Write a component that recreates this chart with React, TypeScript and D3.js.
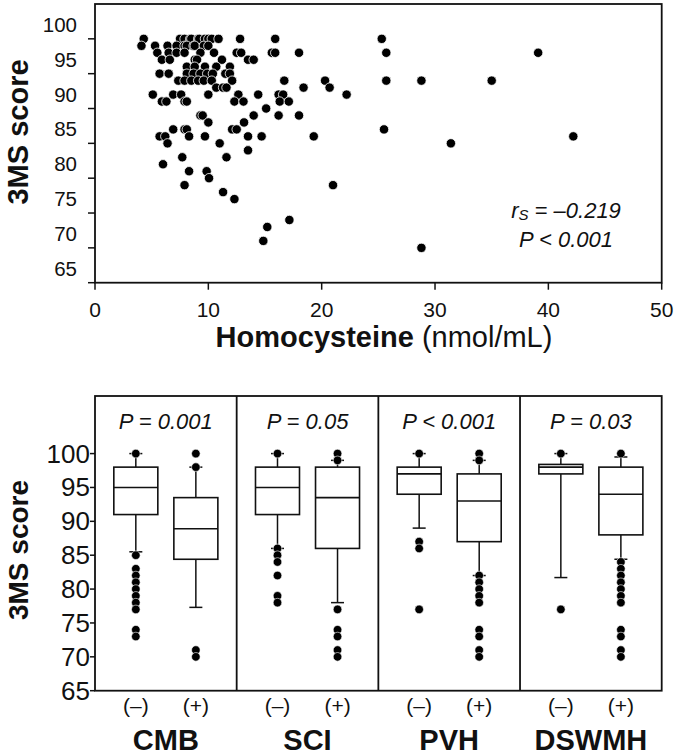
import * as d3 from "d3";

// scatter: homocysteine (nmol/mL) and 3MS score, listed row by row
const homocysteine = [
  4.3, 7.5, 7.9, 8.4, 8.5, 9.1, 9.2, 9.7, 10.0, 10.3, 10.9, 12.8, 15.9, 25.3,
  4.1, 5.3, 6.4, 7.2, 7.9, 8.1, 8.7, 8.8, 9.6, 10.0,
  5.5, 6.5, 7.2, 7.9, 9.3, 10.5, 12.5, 12.9, 15.6, 15.9, 18.0, 25.7, 39.1,
  5.9, 6.6, 8.8, 9.0, 11.2, 13.5, 14.0,
  8.1, 8.8, 9.7, 10.7, 11.9,
  5.7, 6.5, 8.1, 8.7, 9.3, 9.9, 10.4, 11.5, 11.9,
  7.35, 7.9, 8.5, 9.1, 9.6, 10.3, 12.1, 16.7, 20.3, 25.7, 28.8, 35.0,
  10.7, 11.3, 11.6, 18.4, 20.7,
  5.1, 6.9, 7.6, 10.0, 12.65, 14.4, 16.2, 16.6, 22.2,
  5.9, 6.3, 7.9, 8.1, 12.3, 13.1, 16.3, 17.1,
  15.1,
  9.3, 9.5, 14.0, 16.2, 18.0,
  10.0, 13.15,
  6.9, 7.9, 8.1, 12.1, 12.5, 25.5,
  5.7, 6.2, 8.3, 9.7, 13.5, 14.7, 19.3, 42.2,
  6.4, 11.0, 31.4,
  13.5,
  7.7, 11.6,
  6.0,
  8.3, 9.85,
  10.06,
  7.9, 21.0,
  11.3,
  12.3,
  17.15,
  15.2,
  14.85,
  28.8,
];
const score3ms = [
  100, 100, 100, 100, 100, 100, 100, 100, 100, 100, 100, 100, 100, 100,
  99, 99, 99, 99, 99, 99, 99, 99, 99, 99,
  98, 98, 98, 98, 98, 98, 98, 98, 98, 98, 98, 98, 98,
  97, 97, 97, 97, 97, 97, 97,
  96, 96, 96, 96, 96,
  95, 95, 95, 95, 95, 95, 95, 95, 95,
  94, 94, 94, 94, 94, 94, 94, 94, 94, 94, 94, 94,
  93, 93, 93, 93, 93,
  92, 92, 92, 92, 92, 92, 92, 92, 92,
  91, 91, 91, 91, 91, 91, 91, 91,
  90,
  89, 89, 89, 89, 89,
  88, 88,
  87, 87, 87, 87, 87, 87,
  86, 86, 86, 86, 86, 86, 86, 86,
  85, 85, 85,
  84,
  83, 83,
  82,
  81, 81,
  80,
  79, 79,
  78,
  77,
  74,
  73,
  71,
  70,
];

const scoreTicks = [65, 70, 75, 80, 85, 90, 95, 100];
const hcyTicks = [0, 10, 20, 30, 40, 50];

// box plots
const lesions = ["CMB", "SCI", "PVH", "DSWMH"];
const pLabels = ["P = 0.001", "P = 0.05", "P < 0.001", "P = 0.03"];
const groups = ["(–)", "(+)"];

// [lower whisker, q1, median, q3, upper whisker] for (–) and (+)
const boxStats = [
  [[85.5, 91, 95, 98, 100], [77.3, 84.4, 88.9, 93.5, 98]],
  [[86, 91, 95, 98, 100], [78, 86, 93.5, 98, 99]],
  [[89, 94, 97, 98, 100], [82, 87, 93, 97, 99]],
  [[81.7, 97, 98, 98.4, 100], [84.4, 88, 94, 98, 99.5]],
];
const boxPoints = [
  [[100, 85, 83, 82, 81, 80, 79, 78, 77, 74, 73], [100, 98, 71, 70]],
  [[100, 86, 85, 84, 82, 79, 78], [100, 99, 77, 74, 73, 71, 70]],
  [[100, 87, 86, 77], [100, 99, 82, 81, 80, 79, 78, 74, 73, 71, 70]],
  [[100, 77], [100, 84, 83, 82, 81, 80, 79, 78, 74, 73, 71, 70]],
];

const font = "'Liberation Sans', Arial, Helvetica, sans-serif";
const ink = "#111";

function Scatter() {
  const x = d3.scaleLinear().domain([0, 50]).range([95, 661.7]);
  const y = d3.scaleLinear().domain([65, 105]).range([282.7, 4]);
  const [y0, y1] = y.range();
  return (
    <g>
      <rect x={x(0)} y={y1} width={x(50) - x(0)} height={y0 - y1} fill="none" stroke={ink} strokeWidth={1.8} />
      {scoreTicks.map((t) => (
        <g key={t}>
          <line x1={x(0) - 7} x2={x(0)} y1={y(t)} y2={y(t)} stroke={ink} strokeWidth={1.5} />
          <text x={77} y={y(t) - 7} textAnchor="end" fontSize={20.5} fill={ink}>{t}</text>
        </g>
      ))}
      {hcyTicks.map((t) => (
        <g key={t}>
          <line x1={x(t)} x2={x(t)} y1={y0} y2={y0 + 7} stroke={ink} strokeWidth={1.5} />
          <text x={x(t)} y={317} textAnchor="middle" fontSize={21} fill={ink}>{t}</text>
        </g>
      ))}
      {homocysteine.map((h, i) => (
        <circle key={i} cx={x(h)} cy={y(score3ms[i])} r={4.7} fill="#000" stroke="#fff" strokeWidth={0.8} />
      ))}
      <text x={384} y={347} textAnchor="middle" fontSize={29} fill={ink}>
        <tspan fontWeight="bold">Homocysteine</tspan>
        <tspan> (nmol/mL)</tspan>
      </text>
      <text transform="translate(28,132) rotate(-90)" textAnchor="middle" fontSize={29} fontWeight="bold" fill={ink}>
        3MS score
      </text>
      <text x={566} y={218} textAnchor="middle" fontSize={22} fontStyle="italic" fill={ink}>
        r<tspan fontSize={15} dy={2}>S</tspan>
        <tspan dy={-2}> = –0.219</tspan>
      </text>
      <text x={566} y={247} textAnchor="middle" fontSize={22} fontStyle="italic" fill={ink}>
        P &lt; 0.001
      </text>
    </g>
  );
}

function Boxes() {
  const panel = d3.scaleBand().domain(lesions).range([95, 661.7]);
  const grp = d3.scalePoint().domain(groups).range([0, panel.bandwidth()]).padding(0.68);
  const y = d3.scaleLinear().domain([65, 108.5]).range([690.7, 396]);
  const [y0, y1] = y.range();
  const bw = 44;
  const cap = 6.5;
  return (
    <g>
      <rect x={95} y={y1} width={661.7 - 95} height={y0 - y1} fill="none" stroke={ink} strokeWidth={1.8} />
      {lesions.slice(1).map((l) => (
        <line key={l} x1={panel(l)} x2={panel(l)} y1={y1} y2={y0} stroke={ink} strokeWidth={1.8} />
      ))}
      {scoreTicks.map((t) => (
        <g key={t}>
          <line x1={90} x2={95} y1={y(t)} y2={y(t)} stroke={ink} strokeWidth={1.5} />
          <text x={90} y={y(t) + 9} textAnchor="end" fontSize={26} fill={ink}>{t}</text>
        </g>
      ))}
      <text transform="translate(28,550) rotate(-90)" textAnchor="middle" fontSize={28} fontWeight="bold" fill={ink}>
        3MS score
      </text>
      {lesions.map((l, li) => {
        const px = panel(l) as number;
        const mid = px + panel.bandwidth() / 2;
        return (
          <g key={l}>
            <text x={mid} y={429} textAnchor="middle" fontSize={22} fontStyle="italic" fill={ink}>
              {pLabels[li]}
            </text>
            <text x={mid} y={750} textAnchor="middle" fontSize={29} fontWeight="bold" fill={ink}>
              {l}
            </text>
            {groups.map((g, gi) => {
              const cx = px + (grp(g) as number);
              const [lo, q1, med, q3, hi] = boxStats[li][gi];
              return (
                <g key={g}>
                  <text x={cx} y={713} textAnchor="middle" fontSize={21} fill={ink}>{g}</text>
                  <line x1={cx} x2={cx} y1={y(hi)} y2={y(q3)} stroke={ink} strokeWidth={1.5} />
                  <line x1={cx} x2={cx} y1={y(q1)} y2={y(lo)} stroke={ink} strokeWidth={1.5} />
                  <line x1={cx - cap} x2={cx + cap} y1={y(hi)} y2={y(hi)} stroke={ink} strokeWidth={1.5} />
                  <line x1={cx - cap} x2={cx + cap} y1={y(lo)} y2={y(lo)} stroke={ink} strokeWidth={1.5} />
                  <rect x={cx - bw / 2} y={y(q3)} width={bw} height={y(q1) - y(q3)} fill="#fff" stroke={ink} strokeWidth={1.6} />
                  <line x1={cx - bw / 2} x2={cx + bw / 2} y1={y(med)} y2={y(med)} stroke={ink} strokeWidth={1.6} />
                  {boxPoints[li][gi].map((v, k) => (
                    <circle key={k} cx={cx} cy={y(v)} r={4.3} fill="#000" stroke="#fff" strokeWidth={0.6} />
                  ))}
                </g>
              );
            })}
          </g>
        );
      })}
    </g>
  );
}

export default function App() {
  return (
    <svg
      width={675}
      height={756}
      viewBox="0 0 675 756"
      style={{ position: "absolute", left: 0, top: 0, background: "#fff" }}
      fontFamily={font}
    >
      <Scatter />
      <Boxes />
    </svg>
  );
}
